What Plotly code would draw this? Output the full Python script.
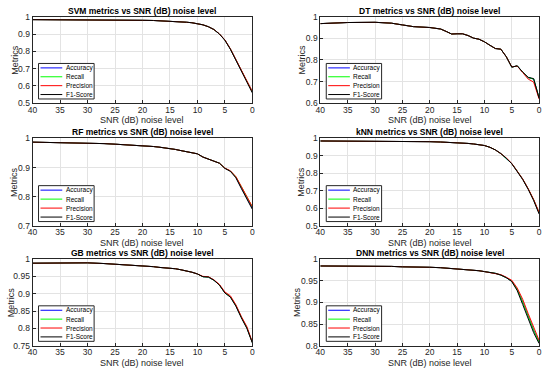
import plotly.graph_objects as go

snr = [40, 35, 30, 27, 25, 23, 20, 18, 17, 16, 15, 14, 13, 12, 11, 10, 9, 8, 7, 6, 5, 4, 3, 2, 1, 0]
series_names = ["Accuracy", "Recall", "Precision", "F1-Score"]
series_colors = ["#0000ff", "#00ff00", "#ff0000", "#000000"]
models = ["SVM", "DT", "RF", "kNN", "GB", "DNN"]

# SVM
svm_f1 = [0.983, 0.983, 0.982, 0.981, 0.981, 0.980, 0.979, 0.978, 0.977, 0.976, 0.975, 0.973, 0.971, 0.968, 0.965, 0.960, 0.953, 0.942, 0.926, 0.900, 0.864, 0.812, 0.748, 0.683, 0.622, 0.560]
svm_acc = [0.983, 0.983, 0.982, 0.981, 0.981, 0.980, 0.979, 0.978, 0.977, 0.976, 0.975, 0.973, 0.971, 0.968, 0.965, 0.960, 0.953, 0.942, 0.926, 0.900, 0.865, 0.814, 0.751, 0.687, 0.627, 0.566]
svm_rec = [0.983, 0.983, 0.982, 0.981, 0.981, 0.980, 0.979, 0.978, 0.977, 0.976, 0.975, 0.973, 0.971, 0.968, 0.965, 0.960, 0.953, 0.942, 0.926, 0.900, 0.865, 0.814, 0.751, 0.687, 0.627, 0.566]
svm_pre = [0.983, 0.983, 0.982, 0.981, 0.981, 0.980, 0.979, 0.978, 0.977, 0.976, 0.975, 0.973, 0.971, 0.968, 0.965, 0.960, 0.953, 0.942, 0.926, 0.901, 0.866, 0.815, 0.752, 0.688, 0.628, 0.568]

# DT
dt_f1 = [0.968, 0.973, 0.974, 0.970, 0.962, 0.954, 0.950, 0.943, 0.932, 0.920, 0.921, 0.921, 0.913, 0.901, 0.896, 0.884, 0.868, 0.853, 0.850, 0.815, 0.767, 0.773, 0.744, 0.720, 0.714, 0.623]
dt_acc = [0.968, 0.973, 0.974, 0.970, 0.962, 0.954, 0.950, 0.943, 0.932, 0.920, 0.921, 0.921, 0.913, 0.901, 0.896, 0.884, 0.868, 0.853, 0.850, 0.815, 0.767, 0.773, 0.744, 0.719, 0.712, 0.625]
dt_rec = [0.968, 0.973, 0.974, 0.970, 0.962, 0.954, 0.950, 0.943, 0.932, 0.920, 0.921, 0.921, 0.913, 0.901, 0.896, 0.884, 0.868, 0.853, 0.850, 0.815, 0.767, 0.773, 0.744, 0.719, 0.712, 0.625]
dt_pre = [0.968, 0.973, 0.974, 0.970, 0.962, 0.954, 0.950, 0.943, 0.932, 0.920, 0.921, 0.921, 0.913, 0.901, 0.896, 0.884, 0.868, 0.853, 0.850, 0.815, 0.768, 0.772, 0.742, 0.712, 0.698, 0.620]

# RF
rf_f1 = [0.987, 0.986, 0.985, 0.982, 0.980, 0.978, 0.976, 0.972, 0.970, 0.968, 0.966, 0.962, 0.958, 0.955, 0.951, 0.947, 0.936, 0.928, 0.922, 0.915, 0.897, 0.887, 0.865, 0.828, 0.795, 0.757]
rf_acc = [0.987, 0.986, 0.985, 0.982, 0.980, 0.978, 0.976, 0.972, 0.970, 0.968, 0.966, 0.962, 0.958, 0.955, 0.951, 0.947, 0.936, 0.928, 0.922, 0.915, 0.898, 0.888, 0.867, 0.831, 0.798, 0.761]
rf_rec = [0.987, 0.986, 0.985, 0.982, 0.980, 0.978, 0.976, 0.972, 0.970, 0.968, 0.966, 0.962, 0.958, 0.955, 0.951, 0.947, 0.936, 0.928, 0.922, 0.915, 0.898, 0.888, 0.868, 0.834, 0.802, 0.765]
rf_pre = [0.987, 0.986, 0.985, 0.982, 0.980, 0.978, 0.976, 0.972, 0.970, 0.968, 0.966, 0.962, 0.958, 0.955, 0.951, 0.947, 0.936, 0.928, 0.922, 0.915, 0.898, 0.889, 0.869, 0.835, 0.803, 0.766]

# kNN
knn_f1 = [0.985, 0.985, 0.984, 0.983, 0.983, 0.982, 0.981, 0.979, 0.978, 0.977, 0.976, 0.974, 0.971, 0.968, 0.964, 0.959, 0.949, 0.934, 0.913, 0.887, 0.855, 0.812, 0.765, 0.709, 0.645, 0.568]
knn_acc = [0.985, 0.985, 0.984, 0.983, 0.983, 0.982, 0.981, 0.979, 0.978, 0.977, 0.976, 0.974, 0.971, 0.968, 0.964, 0.959, 0.949, 0.934, 0.913, 0.887, 0.856, 0.813, 0.767, 0.712, 0.649, 0.574]
knn_rec = [0.985, 0.985, 0.984, 0.983, 0.983, 0.982, 0.981, 0.979, 0.978, 0.977, 0.976, 0.974, 0.971, 0.968, 0.964, 0.959, 0.949, 0.934, 0.913, 0.887, 0.856, 0.813, 0.767, 0.712, 0.649, 0.574]
knn_pre = [0.985, 0.985, 0.984, 0.983, 0.983, 0.982, 0.981, 0.979, 0.978, 0.977, 0.976, 0.974, 0.971, 0.968, 0.964, 0.959, 0.949, 0.934, 0.913, 0.888, 0.857, 0.814, 0.768, 0.713, 0.651, 0.577]

# GB
gb_f1 = [0.988, 0.989, 0.989, 0.987, 0.985, 0.984, 0.982, 0.978, 0.976, 0.975, 0.974, 0.972, 0.969, 0.966, 0.962, 0.957, 0.949, 0.948, 0.939, 0.925, 0.902, 0.890, 0.864, 0.830, 0.800, 0.758]
gb_acc = [0.988, 0.989, 0.989, 0.987, 0.985, 0.984, 0.982, 0.978, 0.976, 0.975, 0.974, 0.972, 0.969, 0.966, 0.962, 0.957, 0.949, 0.948, 0.939, 0.925, 0.903, 0.891, 0.866, 0.832, 0.802, 0.759]
gb_rec = [0.988, 0.989, 0.989, 0.987, 0.985, 0.984, 0.982, 0.978, 0.976, 0.975, 0.974, 0.972, 0.969, 0.966, 0.962, 0.957, 0.949, 0.948, 0.939, 0.925, 0.903, 0.891, 0.866, 0.832, 0.802, 0.759]
gb_pre = [0.988, 0.989, 0.989, 0.987, 0.985, 0.984, 0.982, 0.978, 0.976, 0.975, 0.974, 0.972, 0.969, 0.966, 0.962, 0.957, 0.950, 0.949, 0.940, 0.927, 0.905, 0.894, 0.868, 0.834, 0.805, 0.760]

# DNN
dnn_f1 = [0.984, 0.984, 0.983, 0.983, 0.982, 0.982, 0.981, 0.980, 0.979, 0.979, 0.978, 0.977, 0.976, 0.975, 0.973, 0.971, 0.969, 0.967, 0.963, 0.957, 0.948, 0.927, 0.895, 0.862, 0.830, 0.805]
dnn_acc = [0.984, 0.984, 0.983, 0.983, 0.982, 0.982, 0.981, 0.980, 0.979, 0.979, 0.978, 0.977, 0.976, 0.975, 0.973, 0.971, 0.969, 0.967, 0.963, 0.957, 0.949, 0.930, 0.901, 0.868, 0.836, 0.808]
dnn_rec = [0.984, 0.984, 0.983, 0.983, 0.982, 0.982, 0.981, 0.980, 0.979, 0.979, 0.978, 0.977, 0.976, 0.975, 0.973, 0.971, 0.969, 0.967, 0.963, 0.957, 0.949, 0.930, 0.901, 0.868, 0.836, 0.808]
dnn_pre = [0.984, 0.984, 0.983, 0.983, 0.982, 0.982, 0.981, 0.980, 0.979, 0.979, 0.978, 0.977, 0.976, 0.975, 0.973, 0.971, 0.969, 0.967, 0.964, 0.958, 0.951, 0.933, 0.907, 0.874, 0.842, 0.812]

model_series = {
    "SVM": [svm_acc, svm_rec, svm_pre, svm_f1],
    "DT": [dt_acc, dt_rec, dt_pre, dt_f1],
    "RF": [rf_acc, rf_rec, rf_pre, rf_f1],
    "kNN": [knn_acc, knn_rec, knn_pre, knn_f1],
    "GB": [gb_acc, gb_rec, gb_pre, gb_f1],
    "DNN": [dnn_acc, dnn_rec, dnn_pre, dnn_f1],
}

x_ticks = [40, 35, 30, 25, 20, 15, 10, 5, 0]
y_ticks = {
    "SVM": [0.5, 0.6, 0.7, 0.8, 0.9, 1.0],
    "DT": [0.6, 0.7, 0.8, 0.9, 1.0],
    "RF": [0.7, 0.8, 0.9, 1.0],
    "kNN": [0.5, 0.6, 0.7, 0.8, 0.9, 1.0],
    "GB": [0.75, 0.8, 0.85, 0.9, 0.95, 1.0],
    "DNN": [0.8, 0.85, 0.9, 0.95, 1.0],
}
y_ticktext = {
    "SVM": ["0.5", "0.6", "0.7", "0.8", "0.9", "1"],
    "DT": ["0.6", "0.7", "0.8", "0.9", "1"],
    "RF": ["0.7", "0.8", "0.9", "1"],
    "kNN": ["0.5", "0.6", "0.7", "0.8", "0.9", "1"],
    "GB": ["0.75", "0.8", "0.85", "0.9", "0.95", "1"],
    "DNN": ["0.8", "0.85", "0.9", "0.95", "1"],
}
y_ranges = {"SVM": [0.5, 1], "DT": [0.6, 1], "RF": [0.7, 1], "kNN": [0.5, 1], "GB": [0.75, 1], "DNN": [0.8, 1]}

W, H = 550, 375
x_doms = [[28 / W, 251 / W], [320 / W, 542 / W]]
y_doms = [[1 - 101 / H, 1 - 12 / H], [1 - 227 / H, 1 - 137 / H], [1 - 350 / H, 1 - 261 / H]]
ytitle_px = {"SVM": 10, "DT": 301, "RF": 9, "kNN": 301, "GB": 6, "DNN": 297}

FONT = "Liberation Sans, Arial, sans-serif"
AX = "#262626"

fig = go.Figure()
layout = dict(
    width=W, height=H, margin=dict(l=0, r=0, t=0, b=0),
    paper_bgcolor="white", plot_bgcolor="white", showlegend=False,
    font=dict(family=FONT, size=8, color=AX),
)
annotations = []
shapes = []

for i, m in enumerate(models):
    row, col = i // 2, i % 2
    n = i + 1
    xa = "x" if n == 1 else f"x{n}"
    ya = "y" if n == 1 else f"y{n}"
    for name, color, vals in zip(series_names, series_colors, model_series[m]):
        fig.add_trace(go.Scatter(x=snr, y=vals, mode="lines", name=name,
                                 line=dict(color=color, width=1), xaxis=xa, yaxis=ya,
                                 showlegend=False))
    xkey = "xaxis" if n == 1 else f"xaxis{n}"
    ykey = "yaxis" if n == 1 else f"yaxis{n}"
    layout[xkey] = dict(domain=x_doms[col], anchor=ya, range=[40, 0], tickvals=x_ticks,
                        ticks="inside", ticklen=3, tickcolor=AX, showline=True, mirror=True,
                        linecolor=AX, linewidth=1, showgrid=True, gridcolor="#e3e3e3",
                        zeroline=False, tickfont=dict(size=8.5), ticklabelstandoff=-2)
    layout[ykey] = dict(domain=y_doms[row], anchor=xa, range=y_ranges[m], tickvals=y_ticks[m],
                        ticktext=y_ticktext[m], ticks="inside", ticklen=3, tickcolor=AX,
                        showline=True, mirror=True, linecolor=AX, linewidth=1, showgrid=True,
                        gridcolor="#e3e3e3", zeroline=False, tickfont=dict(size=8.5))
    xd, yd = x_doms[col], y_doms[row]
    xc = (xd[0] + xd[1]) / 2
    # title
    annotations.append(dict(text=f"<b>{m} metrics vs SNR (dB) noise level</b>", x=xc, y=yd[1],
                            xref="paper", yref="paper", xanchor="center", yanchor="middle",
                            yshift=6, showarrow=False, font=dict(size=8.5, color="#000000")))
    # x title
    annotations.append(dict(text="SNR (dB) noise level", x=xc, y=yd[0], xref="paper", yref="paper",
                            xanchor="center", yanchor="middle", yshift=-17, showarrow=False,
                            font=dict(size=9, color=AX)))
    # y title
    annotations.append(dict(text="Metrics", x=ytitle_px[m] / W, y=(yd[0] + yd[1]) / 2,
                            xref="paper", yref="paper",
                            xanchor="center", yanchor="middle", textangle=-90, showarrow=False,
                            font=dict(size=9, color=AX)))
    # legend box
    xr, yr = f"{xa} domain", f"{ya} domain"
    shapes.append(dict(type="rect", xref=xr, yref=yr, x0=0.027, x1=0.28, y0=0.05, y1=0.46,
                       line=dict(color=AX, width=1), fillcolor="white", layer="above"))
    for k, (name, color) in enumerate(zip(series_names, series_colors)):
        yy = 0.05 + 0.41 * (1 - (k + 0.5) / 4)
        shapes.append(dict(type="line", xref=xr, yref=yr, x0=0.036, x1=0.135, y0=yy, y1=yy,
                           line=dict(color=color, width=1), layer="above"))
        annotations.append(dict(text=name, x=0.142, y=yy, xref=xr, yref=yr, xanchor="left",
                                yanchor="middle", showarrow=False, font=dict(size=6.5, color="#000000")))

layout["annotations"] = annotations
layout["shapes"] = shapes
fig.update_layout(**layout)
fig.write_html("out.html", config={"displayModeBar": False},
               post_script="document.body.style.margin='0';document.body.style.overflow='hidden';")
